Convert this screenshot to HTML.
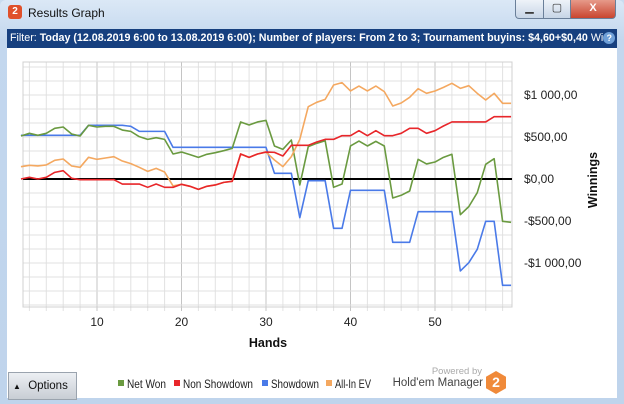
<!DOCTYPE html>
<html><head><meta charset="utf-8"><style>
body{margin:0;width:624px;height:404px;overflow:hidden;font-family:"Liberation Sans",sans-serif;background:#c9dcf0}
#win{position:absolute;left:0;top:0;width:624px;height:404px;background:linear-gradient(#dbe8f6,#c3d7ee 40px,#bfd4ec);border-radius:6px 6px 0 0}
#title{position:absolute;left:28px;top:6px;font-size:12px;color:#111}
#logo{position:absolute;left:8px;top:5px;width:14px;height:14px;background:#e0502a;border-radius:3px;color:#fff;font-size:10px;font-weight:bold;text-align:center;line-height:14px}
.tb{position:absolute;top:0;height:18px;border:1px solid #6a7f99;border-top:none;background:linear-gradient(#eef3f9,#c7d5e6);font-size:11px;text-align:center;line-height:16px;color:#333}
#filter{position:absolute;left:7px;top:29px;width:610px;height:19px;background:#17407f;color:#fff;font-size:10.7px;line-height:19px;white-space:nowrap;overflow:hidden;text-indent:3px}
#content{position:absolute;left:7px;top:48px;width:610px;height:350px;background:#fff}
</style></head><body>
<div id="win">
<div id="logo">2</div>
<div id="title">Results Graph</div>
<div class="tb" style="left:515px;width:27px;border-radius:0 0 0 4px">▁</div>
<div class="tb" style="left:543px;width:26px">▢</div>
<div class="tb" style="left:570px;width:44px;background:linear-gradient(#e69a8a,#c9452f);color:#fff;font-weight:bold;border-radius:0 0 4px 0">X</div>
<div id="filter">Filter: <b>Today (12.08.2019 6:00 to 13.08.2019 6:00); Number of players: From 2 to 3; Tournament buyins: $4,60+$0,40</b> Wi<span style="display:inline-block;width:12px;height:12px;border-radius:6px;background:#6fa0d8;color:#fff;font-size:9px;line-height:12px;text-align:center;text-indent:0;font-weight:bold">?</span></div>
<div id="content"></div>
<svg id="chart" width="624" height="404" style="position:absolute;left:0;top:0"></svg>
<div style="position:absolute;left:8px;top:372px;width:67px;height:26px;background:linear-gradient(#eceff3,#c8cdd4);border:1px solid #9aa3ae;font-size:11.5px;line-height:26px;color:#111"><span style="display:inline-block;width:16px;text-align:center;font-size:8px">▲</span> Options</div>
<div style="position:absolute;left:400px;top:366px;width:82px;text-align:right;font-size:9.5px;color:#aaa">Powered by</div>
<div style="position:absolute;left:360px;top:377px;width:123px;text-align:right;font-size:11.5px;color:#444">Hold'em Manager</div>
<div style="position:absolute;left:486px;top:371px;width:20px;height:23px;background:#f08a3a;clip-path:polygon(50% 0,100% 25%,100% 75%,50% 100%,0 75%,0 25%);color:#fff;font-weight:bold;font-size:14px;text-align:center;line-height:23px">2</div>
</div>
<script>
const hands=[1,2,3,4,5,6,7,8,9,10,11,12,13,14,15,16,17,18,19,20,21,22,23,24,25,26,27,28,29,30,31,32,33,34,35,36,37,38,39,40,41,42,43,44,45,46,47,48,49,50,51,52,53,54,55,56,57,58,59];
const netWon=[512,544,520,544,603,619,536,512,639,619,627,627,583,567,504,472,492,472,298,321,290,258,294,313,337,365,679,643,679,698,393,353,464,-71,385,425,456,-99,-60,393,452,393,448,393,-226,-194,-143,234,179,202,258,294,-425,-329,-163,175,242,-504,-516];
const nonShowdown=[0,20,0,20,79,99,8,-8,-8,-8,-8,-8,-60,-60,-60,-99,-60,-99,-99,-63,-87,-123,-87,-71,-40,-28,298,258,298,321,317,274,401,401,401,440,472,472,516,516,575,516,575,516,516,544,603,603,544,575,631,679,679,679,679,679,742,742,742];
const showdown=[520,520,520,520,520,520,520,520,639,639,639,639,639,627,567,567,567,567,377,377,377,377,377,377,377,377,377,377,377,377,68,68,68,-460,-20,-20,-20,-587,-587,-135,-135,-135,-135,-135,-754,-754,-754,-389,-389,-389,-389,-389,-1095,-996,-837,-504,-504,-1266,-1266];
const allInEV=[147,163,155,167,222,238,155,139,258,234,250,266,214,183,139,91,127,83,-83,-63,-87,-123,-87,-71,-40,-28,298,258,298,321,226,147,266,472,861,913,948,1119,1147,1048,1107,1048,1107,1040,869,905,972,1075,1020,1048,1091,1139,1079,1111,1020,940,1020,901,901];
const xTicks=[10,20,30,40,50];
const yTicks=[1000,500,0,-500,-1000];
const yTickLabels=["$1 000,00","$500,00","$0,00","-$500,00","-$1 000,00"];
const seriesNames=["Net Won","Non Showdown","Showdown","All-In EV"];
const seriesColors=["#6a9a40","#e8262a","#4a7ae8","#f4a860"];

const NS="http://www.w3.org/2000/svg";
const svg=document.getElementById('chart');
const L=23,R=512,T=62,B=307;
const x=h=>97+(h-10)*8.45;
const y=v=>179-v*0.084;
function el(t,a){const e=document.createElementNS(NS,t);for(const k in a)e.setAttribute(k,a[k]);svg.appendChild(e);return e;}
for(let h=2;h<=58;h+=2){const gx=x(h);if(gx<L||gx>R)continue;
 const g=el('line',{x1:gx,x2:gx,y1:T,y2:B+4,stroke:h%10==0?'#c4c4c4':'#e2e2e2','stroke-width':1});
 }
for(let v=-1500;v<=1400;v+=500/3){const gy=y(v);if(gy<T||gy>B)continue;
 const g=el('line',{x1:L,x2:R,y1:gy,y2:gy,stroke:'#e0e0e0','stroke-width':1});
 }
const fr=el('rect',{x:L,y:T,width:R-L,height:B-T,fill:'none',stroke:'#d0d0d0'});

const zl=el('line',{x1:L,x2:R,y1:y(0),y2:y(0),stroke:'#000','stroke-width':2});

xTicks.forEach(t=>{const tx=el('text',{x:x(t),y:326,'text-anchor':'middle','font-size':12,fill:'#222'});tx.textContent=t;
 });
yTicks.forEach((t,i)=>{const tx=el('text',{x:524,y:y(t)+4,'font-size':12,fill:'#222'});tx.textContent=yTickLabels[i];
 });
const xt=el('text',{x:268,y:347,'text-anchor':'middle','font-size':12.5,'font-weight':'bold',fill:'#111'});xt.textContent='Hands';

const yt=el('text',{x:0,y:0,'text-anchor':'middle','font-size':12.5,'font-weight':'bold',fill:'#111',transform:'translate(597,180) rotate(-90)'});yt.textContent='Winnings';

const order=[showdown,netWon,allInEV,nonShowdown],oc=[2,0,3,1];
order.forEach((s,k)=>{const p=el('polyline',{points:s.map((v,i)=>x(hands[i])+','+y(v)).join(' '),fill:'none',stroke:seriesColors[oc[k]],'stroke-width':1.6,'stroke-linejoin':'round'});
 });
const lx=[118,174,262,326];
const lw=[39,70,48,36];
seriesNames.forEach((n,i)=>{
 const r=el('rect',{x:lx[i],y:380,width:6,height:6,fill:seriesColors[i]});
 
 const t=el('text',{x:lx[i]+9,y:388,'font-size':12,fill:'#222',textLength:lw[i],lengthAdjust:'spacingAndGlyphs'});t.textContent=n;
 });
</script>
</body></html>
